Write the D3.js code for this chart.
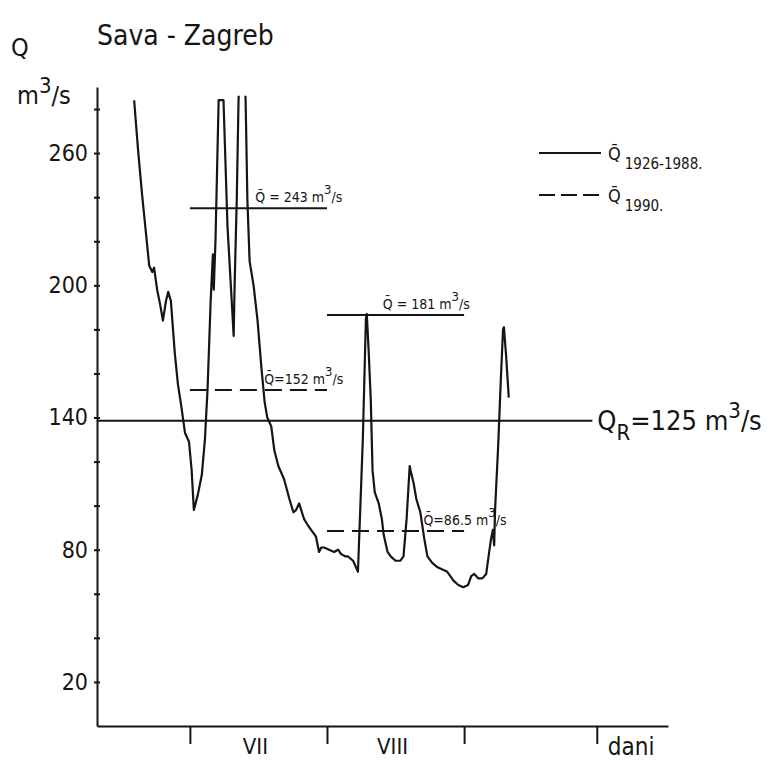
<!DOCTYPE html>
<html lang="hr">
<head>
  <meta charset="UTF-8" />
  <title>Sava - Zagreb</title>
  <style>
    body {
      margin: 0;
      background: #fff;
    }
    svg text {
      font-family: "DejaVu Sans Condensed", "Liberation Sans Narrow", "DejaVu Sans", sans-serif;
      fill: #151515;
    }
  </style>
</head>
<body>

  <div id="chart"></div>

  <script src="https://d3js.org/d3.v7.min.js"></script>

  <script>
    // Daily discharge (day 0 = 1 July)
    const days = [
      -12.6, -11.7, -10.8, -9.9, -9.2, -8.5, -8.1, -7.4, -6.7, -6.1, -5.4, -4.9, -4.3, -3.4, -2.7, -2.0, -1.1, -0.2, 0.4, 0.9,
      1.8, 2.7, 3.4, 4.0, 4.7, 5.2, 5.4, 5.8, 6.5, 7.6, 8.5, 9.2, 9.9, 10.1, 10.6, 11.0, 11.9, 12.6, 13.0, 13.5,
      14.4, 15.3, 16.2, 16.9, 17.5, 18.4, 19.1, 20.0, 21.3, 22.5, 23.4, 24.0, 24.7, 25.8, 26.7, 27.4, 28.5, 29.2, 29.7, 30.3,
      31.5, 32.6, 33.5, 34.2, 35.1, 35.7, 36.9, 38.0, 39.1, 39.8, 40.0, 40.4, 40.9, 41.3, 41.8, 42.7, 43.4, 43.8, 44.7, 45.4,
      46.5, 47.6, 48.3, 49.0, 49.7, 49.9, 50.6, 51.2, 52.1, 53.0, 53.7, 54.8, 56.0, 57.1, 58.2, 59.6, 60.7, 61.8, 62.9, 63.6,
      64.3, 65.2, 66.1, 67.0, 67.6, 68.1, 68.5, 68.8, 69.0, 69.7, 70.3, 70.8, 71.0, 71.5, 72.1
    ];
    const flow = [
      284, 261, 241, 223, 209, 206, 208, 198, 191, 184, 193, 197, 193, 169, 155, 146, 133, 129, 116, 98,
      105, 114, 130, 153, 193, 214, 198, 221, 284, 284, 227, 202, 177, 199, 239, 284, 320, 284, 239, 211,
      200, 184, 162, 147, 140, 136, 125, 118, 112, 103, 97, 98, 101, 94, 91, 89, 86, 79, 81, 81,
      80, 79, 80, 78, 77, 77, 75, 70, 130, 185, 187, 171, 148, 116, 106, 101, 94, 87, 79, 77,
      75, 75, 77, 94, 118, 116, 110, 103, 97, 85, 77, 74, 72, 71, 70, 66, 64, 63, 64, 68,
      69, 67, 67, 69, 78, 85, 89, 82, 98, 127, 157, 180, 181, 168, 149
    ];

    // Mean discharge lines (drawn level, span in days, label)
    const meanLevel  = [235, 152.5, 186.5, 88.5];
    const meanFrom   = [0, 0, 31, 31];
    const meanTo     = [31, 31, 62, 62];
    const meanDashed = [false, true, false, true];
    const meanText   = [" = 243 m", "=152 m", " = 181  m", "=86.5 m"];

    // Reference discharge Q_R
    const qrLevel = 138.5;
    const qrText = "125";

    // Axes
    const yTicks = d3.range(20, 281, 20);
    const yLabels = [20, 80, 140, 200, 260];
    const monthStarts = [0, 31, 62, 92];
    const monthNames = ["VII", "VIII"];

    const legendYears = ["1926-1988.", "1990."];

    const W = 770, H = 760;

    const svg = d3.select("#chart")
      .append("svg")
      .attr("width", W)
      .attr("height", H);

    const x = d3.scaleLinear().domain([-21, 108.1]).range([97, 668]);
    const y = d3.scaleLinear().domain([0, 290]).range([726, 87]);

    const ink = "#151515";

    // Title and axis label
    svg.append("text").attr("x", 97).attr("y", 45)
      .style("font-size", "28px").text("Sava - Zagreb");
    svg.append("text").attr("x", 11).attr("y", 56)
      .style("font-size", "25px").text("Q");
    const unit = svg.append("text").attr("x", 17).attr("y", 104).style("font-size", "25px");
    unit.append("tspan").text("m");
    unit.append("tspan").attr("dy", -11).style("font-size", "22px").text("3");
    unit.append("tspan").attr("dy", 11).text("/s");

    // Y axis
    const yAxis = svg.append("g")
      .attr("transform", `translate(${x(-21)},0)`)
      .call(d3.axisLeft(y)
        .tickValues(yTicks)
        .tickSizeInner(3)
        .tickSizeOuter(0)
        .tickPadding(6)
        .tickFormat(d => yLabels.includes(d) ? d : ""));
    yAxis.select(".domain").attr("stroke", ink).attr("stroke-width", 2);
    yAxis.selectAll(".tick line").attr("x2", -3).attr("x1", 3).attr("stroke", ink).attr("stroke-width", 2);
    yAxis.selectAll(".tick text").style("font-size", "23px").attr("fill", ink);

    // X axis
    const xAxis = svg.append("g")
      .attr("transform", `translate(0,${y(0)})`)
      .call(d3.axisBottom(x)
        .tickValues(monthStarts)
        .tickSizeInner(18)
        .tickSizeOuter(0)
        .tickFormat(""));
    xAxis.select(".domain").attr("stroke", ink).attr("stroke-width", 2);
    xAxis.selectAll(".tick line").attr("stroke", ink).attr("stroke-width", 2);

    monthNames.forEach((m, i) => {
      svg.append("text")
        .attr("x", x((monthStarts[i] + monthStarts[i + 1]) / 2) - 3)
        .attr("y", y(0) + 28)
        .attr("text-anchor", "middle")
        .style("font-size", "22px")
        .text(m);
    });
    svg.append("text")
      .attr("x", x(monthStarts[3]) + 11)
      .attr("y", y(0) + 29)
      .style("font-size", "24px")
      .text("dani");

    // Clip for the hydrograph (it runs off the top of the frame)
    svg.append("clipPath").attr("id", "frame")
      .append("rect")
      .attr("x", x(-21)).attr("y", y(286))
      .attr("width", x(108.1) - x(-21)).attr("height", y(0) - y(286));

    // Q_R line
    svg.append("line")
      .attr("x1", x(-21)).attr("x2", x(91))
      .attr("y1", y(qrLevel)).attr("y2", y(qrLevel))
      .attr("stroke", ink).attr("stroke-width", 2);
    const qr = svg.append("text")
      .attr("x", x(91) + 5).attr("y", y(qrLevel) + 9)
      .style("font-size", "27px");
    qr.append("tspan").text("Q");
    qr.append("tspan").attr("dy", 10).style("font-size", "22px").text("R");
    qr.append("tspan").attr("dy", -10).text("=" + qrText + " m");
    qr.append("tspan").attr("dy", -12).style("font-size", "22px").text("3");
    qr.append("tspan").attr("dy", 12).text("/s");

    // Mean lines
    meanLevel.forEach((lv, i) => {
      svg.append("line")
        .attr("x1", x(meanFrom[i])).attr("x2", x(meanTo[i]))
        .attr("y1", y(lv)).attr("y2", y(lv))
        .attr("stroke", ink).attr("stroke-width", 2)
        .attr("stroke-dasharray", meanDashed[i] ? "17,8" : null);
    });

    // Mean labels, start offsets in days from the span start
    const labelOffset = [14.8, 16.8, 12.6, 21.8];
    meanText.forEach((t, i) => {
      const lab = svg.append("text")
        .attr("x", x(meanFrom[i] + labelOffset[i]))
        .attr("y", y(meanLevel[i]) - 6)
        .style("font-size", "14px");
      lab.append("tspan").text("Q\u0304" + t);
      lab.append("tspan").attr("dy", -8).style("font-size", "13px").text("3");
      lab.append("tspan").attr("dy", 8).text("/s");
    });

    // Hydrograph
    const pts = days.map((d, i) => [d, flow[i]]);
    svg.append("path")
      .datum(pts)
      .attr("clip-path", "url(#frame)")
      .attr("fill", "none")
      .attr("stroke", ink)
      .attr("stroke-width", 2.2)
      .attr("stroke-linejoin", "round")
      .attr("d", d3.line().x(d => x(d[0])).y(d => y(d[1])));

    // Legend
    legendYears.forEach((yr, i) => {
      const ly = 153 + i * 42;
      svg.append("line")
        .attr("x1", 539).attr("x2", 601)
        .attr("y1", ly).attr("y2", ly)
        .attr("stroke", ink).attr("stroke-width", 2)
        .attr("stroke-dasharray", i === 1 ? "16,6" : null);
      const lt = svg.append("text").attr("x", 608).attr("y", ly + 7).style("font-size", "18px");
      lt.append("tspan").text("Q\u0304");
      lt.append("tspan").attr("dx", 4).attr("dy", 9).style("font-size", "15px").text(yr);
    });
  </script>
</body>
</html>
